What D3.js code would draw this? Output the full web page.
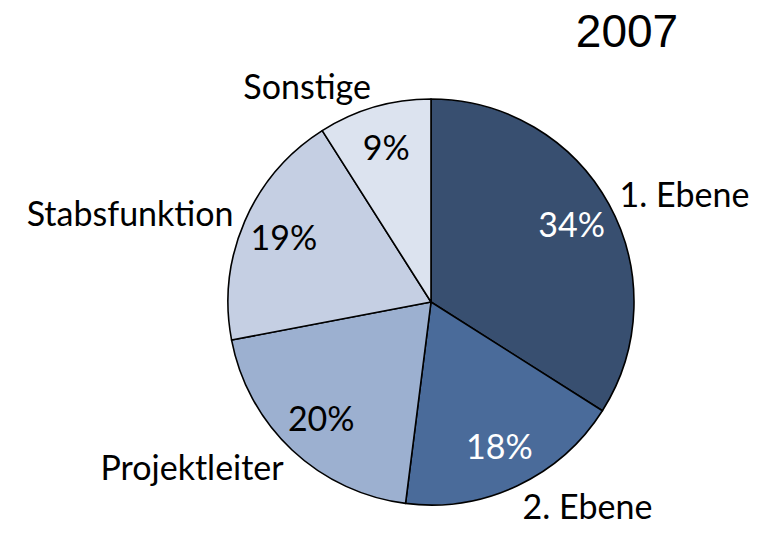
<!DOCTYPE html>
<html>
<head>
<meta charset="utf-8">
<script src="https://cdn.jsdelivr.net/npm/d3@7"></script>
<style>
  body { margin: 0; background: #fff; }
  svg { display: block; }
</style>
</head>
<body>
<svg id="chart" width="767" height="533"></svg>
<script>
// Pie data, clockwise from 12 o'clock
const categories = ["1. Ebene", "2. Ebene", "Projektleiter", "Stabsfunktion", "Sonstige"];
const shares = [34, 18, 20, 19, 9];
const sliceColors = ["#384f70", "#4a6b9a", "#9cb0d0", "#c5cfe3", "#dce3ef"];
const percentColors = ["#fff", "#fff", "#000", "#000", "#000"];
const title = "2007";

const width = 767, height = 533;
const cx = 431, cy = 302, radius = 203;

const svg = d3.select("#chart");
const g = svg.append("g").attr("transform", `translate(${cx},${cy})`);

const pie = d3.pie().sort(null).value(d => d)(shares);
const arc = d3.arc().innerRadius(0).outerRadius(radius);
const labelArc = d3.arc().innerRadius(radius * 0.79).outerRadius(radius * 0.79);
const midAngle = d => (d.startAngle + d.endAngle) / 2;

g.selectAll("path.slice")
    .data(pie)
    .join("path")
    .attr("class", "slice")
    .attr("d", arc)
    .attr("fill", (d, i) => sliceColors[i])
    .attr("stroke", "#000")
    .attr("stroke-width", 1.6)
    .attr("stroke-linejoin", "round");

// percent labels inside
g.selectAll("text.pct")
    .data(pie)
    .join("text")
    .attr("class", "pct")
    .attr("transform", d => `translate(${labelArc.centroid(d)})`)
    .attr("text-anchor", "middle")
    .attr("dy", "0.35em")
    .style("font-family", "Lato, 'Open Sans', sans-serif")
    .style("font-size", "34px")
    .attr("fill", (d, i) => percentColors[i])
    .text(d => d.data + "%");

// category labels outside (slightly elliptical placement)
const outerRx = radius * 1.06, outerRy = radius * 1.11;
g.selectAll("text.cat")
    .data(pie)
    .join("text")
    .attr("class", "cat")
    .attr("x", d => Math.sin(midAngle(d)) * outerRx)
    .attr("y", d => -Math.cos(midAngle(d)) * outerRy)
    .attr("dy", "0.4em")
    .attr("text-anchor", d => Math.sin(midAngle(d)) >= 0 ? "start" : "end")
    .style("font-family", "Lato, 'Open Sans', sans-serif")
    .style("font-size", "34px")
    .attr("fill", "#000")
    .text((d, i) => categories[i]);

svg.append("text")
    .attr("x", 627)
    .attr("y", 47)
    .attr("text-anchor", "middle")
    .style("font-family", "'Liberation Sans', Arial, sans-serif")
    .style("font-size", "46px")
    .text(title);
</script>
</body>
</html>
